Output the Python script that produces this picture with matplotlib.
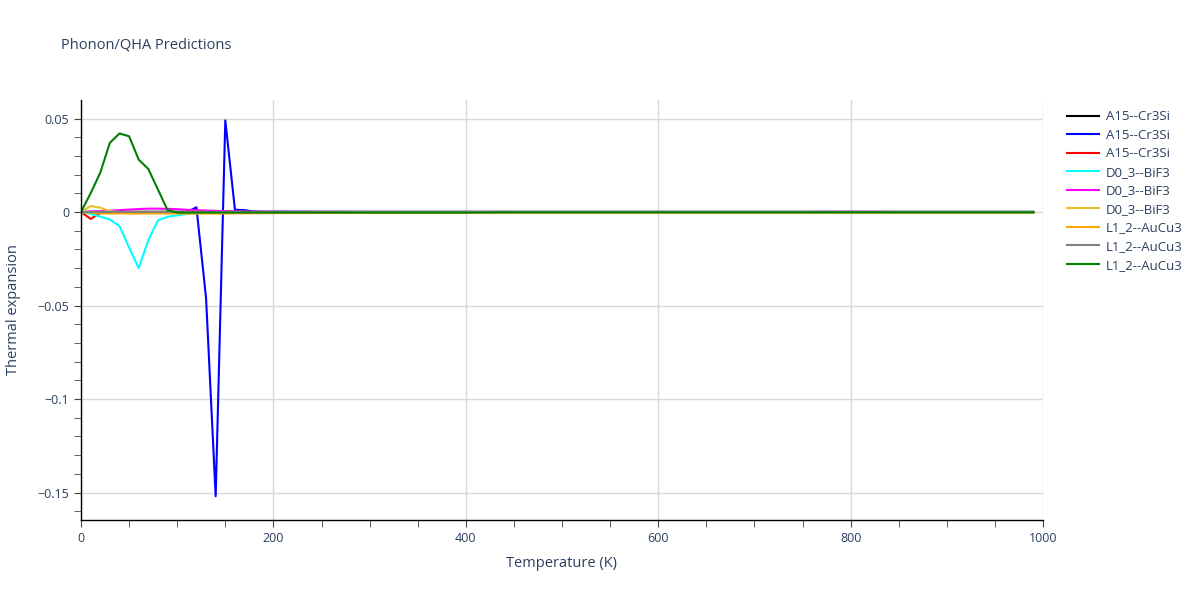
import matplotlib
matplotlib.use("Agg")
import matplotlib.pyplot as plt
from matplotlib.ticker import MultipleLocator

plt.rcParams['font.family'] = ['Open Sans', 'DejaVu Sans']
txt = '#2a3f5f'

# temperature grid (K)
temps = [0, 10, 20, 30, 40, 50, 60, 70, 80, 90, 100, 110, 120, 130, 140, 150, 160, 170, 180, 190, 200,
         250, 300, 350, 400, 450, 500, 550, 600, 650, 700, 750, 800, 850, 900, 950, 990]

a15_black = [0, 0.0001, 0.0001, 0.0001, 0.0001, 0.0001, 0.0001, 0.0001, 0.0001, 0.0001, 0.0001, 0.0001, 0.0001,
             0.0001, 0.0001, 0.0001, 0.0001, 0.0001, 0.0001, 0.0001, 0.0001,
             0.0001, 0.0001, 0.0001, 0.0001, 0.0001, 0.0001, 0.0001, 0.0001, 0.0001, 0.0001, 0.0001, 0.0001,
             0.0001, 0.0001, 0.0001, 0.0001]
a15_blue = [0, 0, -0.0002, -0.0003, -0.0003, -0.0003, -0.0002, -0.0002, -0.0001, -0.0001, 0, 0, 0.0025,
            -0.046, -0.152, 0.049, 0.0012, 0.001, 0.0002, 0.0001, 0.0001,
            0, 0, 0, 0, 0, 0, 0, 0, 0, 0, 0, 0, 0, 0, 0, 0]
a15_red = [0, -0.0037, -0.0006, -0.0002, -0.0001, 0, 0, 0, 0, 0, 0, 0, 0, 0, 0, 0, 0, 0, 0, 0, 0,
           0, 0, 0, 0, 0, 0, 0, 0, 0, 0, 0, 0, 0, 0, 0, 0]
d03_cyan = [0, -0.001, -0.0025, -0.004, -0.0075, -0.019, -0.030, -0.015, -0.0045, -0.0025, -0.0018, -0.001,
            -0.0006, -0.0004, -0.0003, -0.0002, -0.0002, -0.0001, -0.0001, -0.0001, -0.0001,
            0, 0, 0, 0, 0, 0, 0, 0, 0, 0, 0, 0, 0, 0, 0, 0]
d03_magenta = [0, 0.0002, 0.0004, 0.0007, 0.001, 0.0013, 0.0016, 0.0018, 0.0018, 0.0017, 0.0015, 0.0012,
               0.001, 0.0008, 0.0006, 0.0005, 0.0004, 0.0003, 0.0002, 0.0002, 0.0001,
               0.0001, 0, 0, 0, 0, 0, 0, 0, 0, 0, 0, 0.0001, 0, 0, 0, 0]
d03_gold = [0, 0.0032, 0.0023, 0.0005, 0, -0.0001, -0.0002, -0.0002, -0.0003, -0.0003, -0.0003, -0.0003,
            -0.0003, -0.0003, -0.0003, -0.0003, -0.0003, -0.0003, -0.0003, -0.0003, -0.0003,
            -0.0003, -0.0003, -0.0003, -0.0003, -0.0003, -0.0003, -0.0003, -0.0003, -0.0003, -0.0003,
            -0.0003, -0.0003, -0.0003, -0.0003, -0.0003, -0.0003]
l12_orange = [0, -0.0004, -0.0007, -0.0008, -0.0008, -0.0008, -0.0008, -0.0008, -0.0008, -0.0008, -0.0008,
              -0.0008, -0.0008, -0.0008, -0.0008, -0.0008, -0.0007, -0.0007, -0.0007, -0.0006, -0.0006,
              -0.0005, -0.0004, -0.0003, -0.0003, -0.0002, -0.0002, -0.0002, -0.0002, -0.0002, -0.0002,
              -0.0002, -0.0002, -0.0002, -0.0002, -0.0002, -0.0002]
l12_gray = [0, 0, 0, 0.0001, 0.0001, 0.0001, 0.0001, 0.0001, 0.0001, 0.0001, 0.0001, 0.0001, 0.0001,
            0.0001, 0.0001, 0.0001, 0.0001, 0.0001, 0.0001, 0.0001, 0.0001,
            0, 0, 0, 0, 0, 0, 0, 0, 0, 0, 0, 0, 0, 0, 0, 0]
l12_green = [0, 0.010, 0.021, 0.037, 0.042, 0.0405, 0.028, 0.023, 0.012, 0.001, -0.0003, -0.0003, -0.0003,
             -0.0003, -0.0003, -0.0003, -0.0003, -0.0003, -0.0003, -0.0003, -0.0003,
             -0.0003, -0.0003, -0.0003, -0.0003, -0.0002, -0.0002, -0.0002, -0.0002, -0.0002, -0.0002,
             -0.0002, -0.0002, -0.0002, -0.0002, -0.0002, -0.0002]

series = [
    ("A15--Cr3Si", a15_black, 'black'),
    ("A15--Cr3Si", a15_blue, 'blue'),
    ("A15--Cr3Si", a15_red, 'red'),
    ("D0_3--BiF3", d03_cyan, 'cyan'),
    ("D0_3--BiF3", d03_magenta, 'magenta'),
    ("D0_3--BiF3", d03_gold, '#e6c02c'),
    ("L1_2--AuCu3", l12_orange, 'orange'),
    ("L1_2--AuCu3", l12_gray, 'gray'),
    ("L1_2--AuCu3", l12_green, 'green'),
]

fig = plt.figure(figsize=(12, 6), dpi=100)
ax = fig.add_axes([81 / 1200, 80 / 600, (1043 - 81) / 1200, 420 / 600])

for name, vals, col in series:
    ax.plot(temps, vals, color=col, lw=1.5, label=name)

ax.set_xlim(0, 1000)
ax.set_ylim(-0.1647, 0.0599)
ax.xaxis.set_major_locator(MultipleLocator(200))
ax.xaxis.set_minor_locator(MultipleLocator(50))
ax.yaxis.set_major_locator(MultipleLocator(0.05))
ax.yaxis.set_minor_locator(MultipleLocator(0.01))
ax.grid(True, which='major', color='#d9d9d9', lw=1)
ax.set_axisbelow(True)

for s in ['top', 'right']:
    ax.spines[s].set_visible(False)
for s in ['left', 'bottom']:
    ax.spines[s].set_color('black')
    ax.spines[s].set_linewidth(1)

ax.tick_params(which='major', direction='out', length=5, color='#444444', labelcolor=txt, labelsize=9)
ax.tick_params(which='minor', direction='out', length=5, color='#444444')
ax.set_yticks([0.05, 0, -0.05, -0.1, -0.15])
ax.set_yticklabels(['0.05', '0', '\u22120.05', '\u22120.1', '\u22120.15'])

ax.set_xlabel('Temperature (K)', color=txt, fontsize=10.5, labelpad=8)
ax.set_ylabel('Thermal expansion', color=txt, fontsize=10.5, labelpad=12)
fig.text(61 / 1200, 1 - 45 / 600, 'Phonon/QHA Predictions', color=txt, fontsize=10.5, va='center')

fig.legend(loc='upper left', bbox_to_anchor=(1062 / 1200, 1 - 105 / 600), frameon=False,
           fontsize=9.5, labelcolor=txt, handlelength=2.4, handletextpad=0.5, labelspacing=0.42,
           borderaxespad=0)

fig.savefig('out.png', dpi=100)
